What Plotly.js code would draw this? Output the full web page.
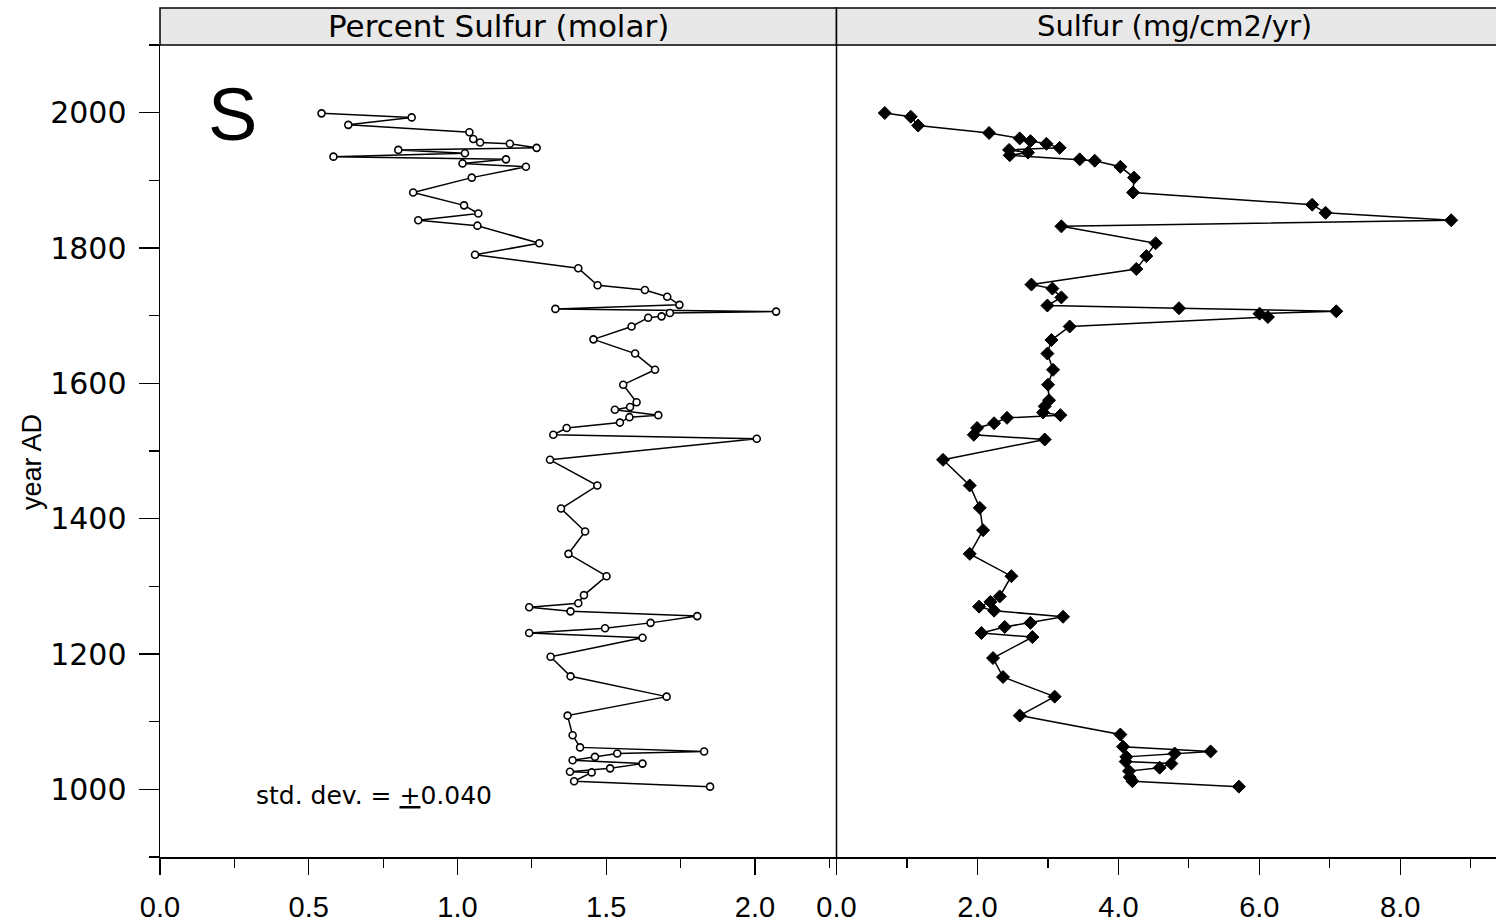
<!DOCTYPE html>
<html>
<head>
<meta charset="utf-8">
<script src="https://cdn.plot.ly/plotly-3.0.1.min.js"></script>
<style>
html, body { margin:0; padding:0; overflow:hidden; background:#fff; }
#chart { width:1513px; height:924px; }
</style>
</head>
<body>
<div id="chart"></div>
<script>
// Left panel: Percent Sulfur (molar)
const pctYears = [1999,1993,1982,1971,1961,1956,1954,1948,1945,1940,1935,1931,1925,1920,1904,1882,1863,1851,1841,1833,1807,1790,1770,1745,1738,1728,1716,1710,1706,1704,1699,1697,1684,1665,1644,1620,1598,1572,1565,1561,1553,1550,1542,1534,1524,1518,1487,1449,1415,1381,1348,1315,1287,1275,1269,1263,1256,1246,1238,1231,1224,1196,1167,1137,1109,1080,1062,1056,1053,1048,1043,1038,1031,1026,1025,1012,1004];
const pctSulfur = [0.543,0.846,0.633,1.040,1.053,1.076,1.176,1.266,0.801,1.025,0.583,1.163,1.017,1.230,1.048,0.851,1.022,1.070,0.868,1.067,1.275,1.059,1.406,1.471,1.630,1.705,1.746,1.329,2.071,1.714,1.686,1.641,1.585,1.457,1.597,1.664,1.557,1.602,1.580,1.529,1.675,1.578,1.546,1.367,1.322,2.006,1.311,1.470,1.348,1.429,1.373,1.501,1.425,1.406,1.241,1.380,1.806,1.649,1.496,1.241,1.622,1.313,1.380,1.703,1.370,1.387,1.412,1.829,1.537,1.462,1.387,1.622,1.513,1.378,1.451,1.392,1.849];

// Right panel: Sulfur flux (mg/cm2/yr)
const fluxYears = [1999.5,1994,1981,1970,1962,1958,1954,1948,1945,1941,1937,1931,1929,1920,1904,1882,1864,1852,1841,1832,1807,1788,1769,1746,1740,1727,1715,1711,1706.5,1703,1698,1684,1664,1644,1620,1598,1575,1566,1557,1553,1549,1541,1534,1524,1517,1487,1449,1416,1383,1348,1315,1285,1277,1270,1264,1255,1246,1240,1231,1225,1194,1166,1137,1109,1081,1063,1056,1053,1048,1041,1038,1032,1027,1018,1012,1004];
const fluxSulfur = [0.685,1.054,1.158,2.165,2.600,2.752,2.979,3.167,2.449,2.718,2.458,3.451,3.664,4.028,4.222,4.208,6.75,6.94,8.723,3.191,4.529,4.397,4.255,2.766,3.064,3.191,2.993,4.860,7.092,6.004,6.122,3.309,3.050,2.993,3.073,3.002,3.016,2.955,2.931,3.177,2.420,2.236,1.995,1.948,2.955,1.512,1.891,2.033,2.080,1.891,2.482,2.316,2.184,2.023,2.236,3.215,2.752,2.387,2.057,2.780,2.221,2.363,3.096,2.600,4.028,4.066,5.309,4.799,4.113,4.104,4.752,4.586,4.151,4.161,4.199,5.711];

const panelTitles = ['Percent Sulfur (molar)', 'Sulfur (mg/cm2/yr)'];
const yTicks = [1000,1200,1400,1600,1800,2000];
const leftTicks = [0,0.5,1.0,1.5,2.0];
const rightTicks = [0,2,4,6,8];

const traces = [
  {
    x: pctSulfur, y: pctYears, xaxis:'x', yaxis:'y',
    type:'scatter', mode:'lines+markers',
    line:{color:'#000', width:1.5},
    marker:{symbol:'circle', size:7, color:'#fff', line:{color:'#000', width:1.6}},
    hoverinfo:'x+y', showlegend:false
  },
  {
    x: fluxSulfur, y: fluxYears, xaxis:'x2', yaxis:'y',
    type:'scatter', mode:'lines+markers',
    line:{color:'#000', width:1.5},
    marker:{symbol:'diamond', size:10, color:'#000', line:{color:'#000', width:1}},
    hoverinfo:'x+y', showlegend:false
  }
];

const tickFont = {family:'Liberation Sans, Arial, sans-serif', size:29, color:'#000'};
const xCommon = {
  showgrid:false, zeroline:false, showline:true, linecolor:'#000', linewidth:1.5,
  ticks:'outside', ticklen:16, tickwidth:1.3, tickcolor:'#000',
  tickfont:tickFont, tickformat:'.1f', ticklabelstandoff:8,
  anchor:'y', fixedrange:true
};

const stripTop = 1 + 37/812;

const layout = {
  width:1513, height:924,
  margin:{l:160, r:0, t:45, b:67},
  paper_bgcolor:'#fff', plot_bgcolor:'#fff',
  showlegend:false,
  xaxis: Object.assign({}, xCommon, {
    domain:[0,0.5], range:[0,2.274], tickvals:leftTicks,
    minor:{dtick:0.25, tick0:0, ticks:'outside', ticklen:9, tickwidth:1.2, tickcolor:'#000'}
  }),
  xaxis2: Object.assign({}, xCommon, {
    domain:[0.5,1], range:[0,9.6], tickvals:rightTicks,
    minor:{dtick:1, tick0:0, ticks:'outside', ticklen:9, tickwidth:1.2, tickcolor:'#000'}
  }),
  yaxis:{
    range:[900,2100], showgrid:false, zeroline:false, showline:true,
    linecolor:'#000', linewidth:1.5,
    ticks:'outside', ticklen:20, tickwidth:1.3, tickcolor:'#000',
    tickvals:yTicks, ticktext:yTicks.map(String),
    tickfont:{family:'DejaVu Sans, sans-serif', size:30, color:'#000'},
    ticklabelstandoff:6,
    minor:{dtick:100, tick0:900, ticks:'outside', ticklen:10, tickwidth:1.2, tickcolor:'#000'},
    title:{text:''},
    fixedrange:true
  },
  shapes:[
    {type:'rect', xref:'paper', yref:'paper', x0:0, x1:0.5, y0:1, y1:stripTop,
     fillcolor:'#e8e8e8', line:{color:'#000', width:1.5}, layer:'below'},
    {type:'rect', xref:'paper', yref:'paper', x0:0.5, x1:1, y0:1, y1:stripTop,
     fillcolor:'#e8e8e8', line:{color:'#000', width:1.5}, layer:'below'},
    {type:'line', xref:'paper', yref:'paper', x0:0.5, x1:0.5, y0:0, y1:1,
     line:{color:'#000', width:1.5}}
  ],
  annotations:[
    {xref:'paper', yref:'paper', x:0.25, y:(1+stripTop)/2, text:panelTitles[0], showarrow:false,
     xanchor:'center', yanchor:'middle', font:{family:'DejaVu Sans, sans-serif', size:31, color:'#000'}},
    {xref:'paper', yref:'paper', x:0.75, y:(1+stripTop)/2, text:panelTitles[1], showarrow:false,
     xanchor:'center', yanchor:'middle', font:{family:'DejaVu Sans, sans-serif', size:29, color:'#000'}},
    {xref:'paper', yref:'paper', x:-0.0946, y:0.4865, text:'year AD', showarrow:false, textangle:-90,
     xanchor:'center', yanchor:'middle', font:{family:'Liberation Sans, Arial, sans-serif', size:27, color:'#000'}},
    {xref:'x', yref:'y', x:0.245, y:1998, text:'S', showarrow:false,
     xanchor:'center', yanchor:'middle', font:{family:'Liberation Sans, Arial, sans-serif', size:74, color:'#000'}},
    {xref:'x', yref:'y', x:0.315, y:991, text:'std. dev. = <u>+</u>0.040', showarrow:false,
     xanchor:'left', yanchor:'middle', font:{family:'DejaVu Sans, sans-serif', size:25, color:'#000'}}
  ]
};

Plotly.newPlot('chart', traces, layout, {displayModeBar:false, staticPlot:true});
</script>
</body>
</html>
